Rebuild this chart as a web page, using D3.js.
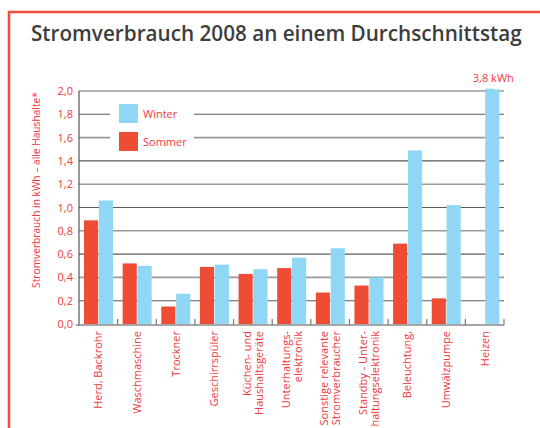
<!DOCTYPE html>
<html lang="de">
<head>
<meta charset="UTF-8">
<title>Stromverbrauch 2008</title>
<script src="https://cdn.jsdelivr.net/npm/d3@7"></script>
<style>
    body { margin: 0; background: #fff; }
    svg text { font-family: "Open Sans", "DejaVu Sans", sans-serif; }
    .title { font-size: 20.7px; font-weight: 600; fill: #3d3d3d; }
    .red-text { fill: #f0383c; font-size: 11px; }
</style>
</head>
<body>
<svg id="chart" width="540" height="428"></svg>
<script>
    // Daten
    var categories = [
        ['Herd, Backrohr'],
        ['Waschmaschine'],
        ['Trockner'],
        ['Geschirrspüler'],
        ['Küchen- und', 'Haushaltsgeräte'],
        ['Unterhaltungs-', 'elektronik'],
        ['Sonstige relevante', 'Stromverbraucher'],
        ['Standby - Unter-', 'haltungselektronik'],
        ['Beleuchtung,'],
        ['Umwälzpumpe'],
        ['Heizen']
    ]
    var sommer = [0.89, 0.52, 0.15, 0.49, 0.43, 0.48, 0.27, 0.33, 0.69, 0.22, 0]
    var winter = [1.06, 0.50, 0.26, 0.51, 0.47, 0.57, 0.65, 0.40, 1.49, 1.02, 3.8]
    var yTicks = [0, 0.2, 0.4, 0.6, 0.8, 1.0, 1.2, 1.4, 1.6, 1.8, 2.0]
    var series = ['Sommer', 'Winter']

    var red = '#ef4c36', blue = '#8fd7f5', textRed = '#f0383c'
    var plotLeft = 79, plotRight = 504, plotTop = 91, plotBottom = 324

    var svg = d3.select('#chart')

    // Rahmen
    svg.append('path')
        .attr('d', 'M9,428 V12 H540')
        .style('fill', 'none')
        .style('stroke', '#f04e3a')
        .style('stroke-width', 2.5)

    svg.append('text').attr('class', 'title')
        .attr('x', 31).attr('y', 41)
        .text('Stromverbrauch 2008 an einem Durchschnittstag')

    var x = d3.scaleBand().domain(d3.range(categories.length))
        .range([plotLeft, plotRight]).paddingInner(0).paddingOuter(0)
    var x1 = d3.scaleBand().domain(series).range([5, 34]).paddingInner(0.05)
    var y = d3.scaleLinear().domain([0, 2]).range([plotBottom, plotTop])

    // Gitterlinien
    svg.append('g').selectAll('line')
        .data(yTicks.slice(1))
        .join('line')
        .attr('x1', plotLeft).attr('x2', plotRight)
        .attr('y1', d => y(d)).attr('y2', d => y(d))
        .style('stroke', (d, i) => i % 2 ? '#9a9a9a' : '#5a5a5a')
        .style('stroke-width', (d, i) => i % 2 ? 1.6 : 1.1)

    // Y-Achse
    var yAxis = svg.append('g')
        .attr('transform', 'translate(' + plotLeft + ',0)')
        .call(d3.axisLeft(y).tickValues(yTicks).tickSize(0).tickPadding(6)
            .tickFormat(d => d3.format('.1f')(d).replace('.', ',')))
    yAxis.select('.domain').remove()
    yAxis.selectAll('text').attr('class', 'red-text').style('fill', textRed)
    yAxis.attr('font-size', null).attr('font-family', null)

    svg.append('text').attr('class', 'red-text')
        .attr('transform', 'translate(40,190) rotate(-90)')
        .style('text-anchor', 'middle')
        .style('font-size', '10.2px')
        .text('Stromverbrauch in kWh – alle Haushalte*')

    // Balken
    var groups = svg.append('g').selectAll('g')
        .data(categories.map((c, i) => ({i: i, Sommer: sommer[i], Winter: winter[i]})))
        .join('g')
        .attr('transform', d => 'translate(' + x(d.i) + ',0)')

    groups.selectAll('rect')
        .data(d => series.map(s => ({key: s, value: d[s]})))
        .join('rect')
        .attr('x', d => x1(d.key))
        .attr('width', x1.bandwidth())
        .attr('y', d => y(Math.min(d.value, 2.02)))
        .attr('height', d => y(0) - y(Math.min(d.value, 2.02)))
        .style('fill', d => d.key === 'Sommer' ? red : blue)

    // abgeschnittener Balken
    var cut = winter.length - 1
    svg.append('text').attr('class', 'red-text')
        .attr('x', x(cut) + x1('Winter') + x1.bandwidth() / 2 + 1)
        .attr('y', 82)
        .style('text-anchor', 'middle')
        .text(d3.format('.1f')(winter[cut]).replace('.', ',') + ' kWh')
    svg.append('path')
        .attr('d', 'M' + (x(cut) + x1('Winter') + 8) + ',' + (y(2.02) - 0.5) +
            ' q3,3 6,0')
        .style('fill', '#fff')

    // Achsenlinien
    svg.append('line').attr('x1', plotLeft).attr('x2', plotLeft)
        .attr('y1', plotTop).attr('y2', plotBottom + 2)
        .style('stroke', '#555').style('stroke-width', 1.2)
    svg.append('line').attr('x1', plotLeft - 3).attr('x2', plotRight)
        .attr('y1', plotBottom + 1).attr('y2', plotBottom + 1)
        .style('stroke', '#888').style('stroke-width', 1.5)
    svg.append('g').selectAll('line')
        .data(d3.range(1, categories.length + 1))
        .join('line')
        .attr('x1', d => plotLeft + d * x.step()).attr('x2', d => plotLeft + d * x.step())
        .attr('y1', plotBottom + 1).attr('y2', plotBottom - 5)
        .style('stroke', '#777').style('stroke-width', 1.2)

    // X-Beschriftung
    var xl = svg.append('g').selectAll('text')
        .data(categories)
        .join('text')
        .attr('class', 'red-text')
        .style('text-anchor', 'end')
        .attr('transform', (d, i) => 'translate(' + (x(i) + x.bandwidth() / 2 + 4 - (d.length - 1) * 6) + ',331) rotate(-90)')
    xl.selectAll('tspan')
        .data(d => d)
        .join('tspan')
        .attr('x', 0)
        .attr('dy', (d, i) => i ? 12 : 0)
        .text(d => d)

    // Legende
    svg.append('rect').attr('x', 110).attr('y', 97).attr('width', 84).attr('height', 58)
        .style('fill', '#fff')
    var legend = svg.append('g').selectAll('g')
        .data(['Winter', 'Sommer'])
        .join('g')
        .attr('transform', (d, i) => 'translate(119,' + (104 + i * 28) + ')')
    legend.append('rect').attr('width', 19).attr('height', 19)
        .style('fill', d => d === 'Sommer' ? red : blue)
    legend.append('text').attr('class', 'red-text')
        .attr('x', 24).attr('y', 14)
        .text(d => d)
</script>
</body>
</html>
